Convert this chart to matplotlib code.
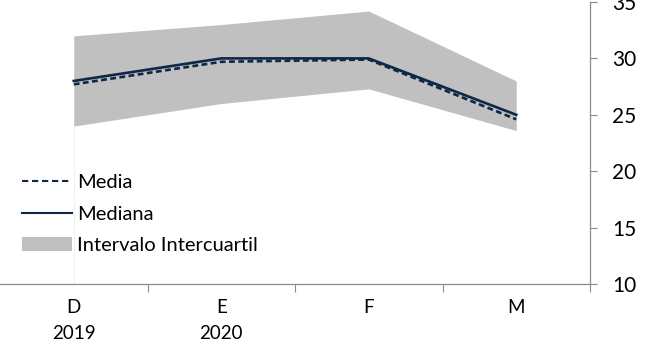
import numpy as np
from matplotlib import pyplot as plt
from matplotlib.patches import Patch
from matplotlib.lines import Line2D

# data
meses = ['D\n2019', 'E\n2020', 'F', 'M']
media = [27.7, 29.7, 29.9, 24.6]
mediana = [28.0, 30.0, 30.0, 25.0]
q1 = [24.0, 26.0, 27.3, 23.6]
q3 = [32.0, 33.0, 34.2, 28.0]

navy = '#0f2747'
gris = '#c0c0c0'
eje = '#8c8c8c'

plt.rcParams['font.family'] = ['Lato', 'DejaVu Sans']

fig = plt.figure(figsize=(6.47, 3.47), dpi=100)
ax = fig.add_axes([0.0, 1 - 284 / 347, 590 / 647, 282 / 347])

x = np.arange(len(meses))
ax.fill_between(x, q1, q3, color=gris, linewidth=0)
ax.plot(x, mediana, color=navy, lw=1.9, solid_joinstyle='miter')
ax.plot(x, media, color=navy, lw=1.9, ls=(0, (2.2, 1.3)))
ax.plot([0, 0], [10, q1[0]], color='#eeeeee', lw=0.6)

ax.set_xlim(-0.5, 3.5)
ax.set_ylim(10, 35)
ax.set_yticks([10, 15, 20, 25, 30, 35])
ax.yaxis.tick_right()
ax.tick_params(axis='y', direction='out', length=5, width=0.8, color=eje,
               pad=11, labelsize=15, labelcolor='black')

ax.set_xticks(x)
ax.set_xticklabels(meses, fontsize=13.5, linespacing=1.6)
ax.tick_params(axis='x', length=0, pad=11)
ax.set_xticks([0.5, 1.5, 2.5, 3.5], minor=True)
ax.tick_params(axis='x', which='minor', direction='out', length=6, width=0.8, color=eje)

for s in ['top', 'left']:
    ax.spines[s].set_visible(False)
ax.spines['bottom'].set_color(eje)
ax.spines['right'].set_color(eje)
ax.spines['bottom'].set_linewidth(0.9)
ax.spines['right'].set_linewidth(0.9)

handles = [Line2D([], [], color=navy, lw=1.5, ls=(0, (3.0, 1.8))),
           Line2D([], [], color=navy, lw=1.5),
           Patch(facecolor=gris, edgecolor='none')]
ax.legend(handles, ['Media', 'Mediana', 'Intervalo Intercuartil'],
          loc='upper left', bbox_to_anchor=(22 / 590, 1 - 172 / 282),
          frameon=False, fontsize=14.5, handlelength=2.5, handletextpad=0.25,
          labelspacing=0.72, borderaxespad=0, borderpad=0)

fig.savefig('out.png', dpi=100)
